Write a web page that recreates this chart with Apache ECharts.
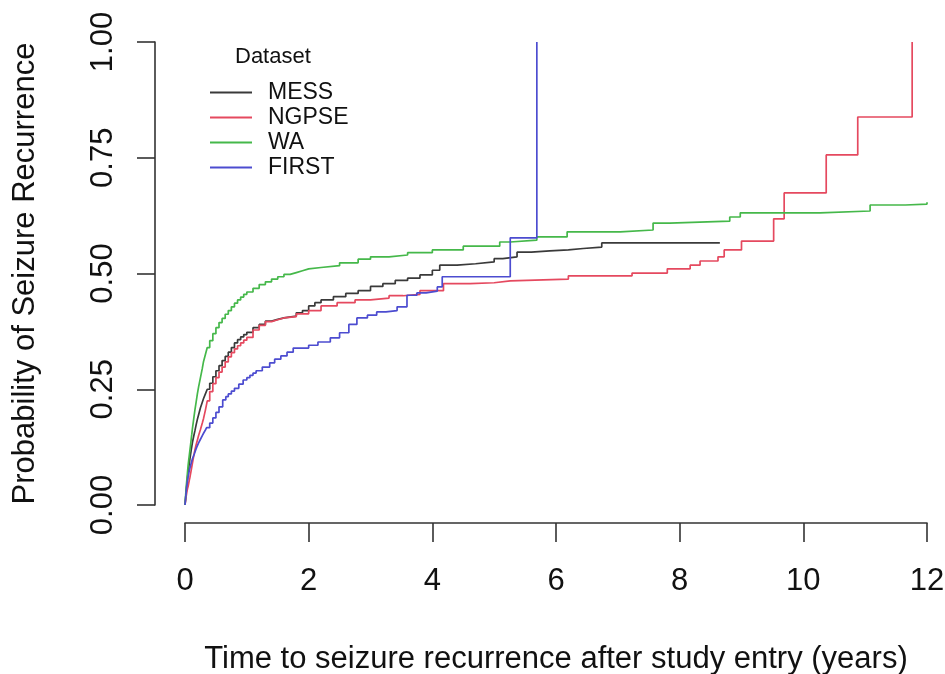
<!DOCTYPE html>
<html>
<head>
<meta charset="utf-8">
<script src="https://cdn.jsdelivr.net/npm/echarts@6/dist/echarts.min.js"></script>
<style>
html,body{margin:0;padding:0;background:#fff;}
#chart{width:945px;height:674px;}
</style>
</head>
<body>
<div id="chart"></div>
<script>
// ---- data ----
const datasetNames = ['MESS', 'NGPSE', 'WA', 'FIRST'];
const xTicks = [0, 2, 4, 6, 8, 10, 12];
const yTicks = [0, 0.25, 0.5, 0.75, 1];

const messT = [0, 0.01, 0.02, 0.03, 0.04, 0.05, 0.06, 0.07, 0.08, 0.1, 0.12, 0.14, 0.16, 0.18, 0.2, 0.22, 0.25, 0.28, 0.3, 0.33, 0.36, 0.4, 0.45, 0.5, 0.55, 0.6, 0.65, 0.7, 0.75, 0.8, 0.85, 0.9, 0.95, 1.0, 1.1, 1.2, 1.3, 1.4, 1.5, 1.6, 1.8, 1.9, 2.0, 2.1, 2.2, 2.4, 2.6, 2.8, 3.0, 3.2, 3.4, 3.6, 3.8, 4.0, 4.12, 4.4, 4.7, 5.0, 5.14, 5.37, 5.6, 5.9, 6.2, 6.44, 6.74, 8.65];
const messP = [0, 0.015, 0.03, 0.045, 0.058, 0.07, 0.08, 0.09, 0.1, 0.118, 0.135, 0.148, 0.16, 0.173, 0.185, 0.195, 0.21, 0.222, 0.23, 0.24, 0.25, 0.263, 0.277, 0.29, 0.301, 0.312, 0.321, 0.33, 0.34, 0.35, 0.357, 0.363, 0.368, 0.373, 0.383, 0.39, 0.397, 0.401, 0.404, 0.408, 0.415, 0.42, 0.43, 0.437, 0.443, 0.45, 0.457, 0.463, 0.472, 0.478, 0.485, 0.49, 0.497, 0.507, 0.518, 0.521, 0.525, 0.532, 0.536, 0.546, 0.549, 0.551, 0.554, 0.557, 0.566, 0.566];

const ngpseT = [0, 0.01, 0.02, 0.03, 0.04, 0.05, 0.06, 0.07, 0.08, 0.1, 0.12, 0.14, 0.16, 0.18, 0.2, 0.22, 0.25, 0.28, 0.3, 0.33, 0.36, 0.4, 0.45, 0.5, 0.55, 0.6, 0.65, 0.7, 0.75, 0.8, 0.85, 0.9, 0.95, 1.0, 1.1, 1.2, 1.3, 1.4, 1.5, 1.6, 1.8, 2.0, 2.2, 2.46, 2.75, 3.0, 3.3, 3.53, 3.8, 4.18, 4.61, 5.0, 5.26, 6.2, 7.23, 7.8, 8.17, 8.33, 8.62, 8.72, 9.0, 9.52, 9.69, 10.37, 10.88, 11.76];
const ngpseP = [0, 0.01, 0.02, 0.028, 0.035, 0.04, 0.047, 0.054, 0.06, 0.075, 0.09, 0.105, 0.119, 0.13, 0.14, 0.15, 0.163, 0.177, 0.187, 0.205, 0.225, 0.245, 0.262, 0.275, 0.287, 0.298, 0.309, 0.32, 0.329, 0.337, 0.344, 0.35, 0.356, 0.362, 0.378, 0.388, 0.396, 0.4, 0.404, 0.407, 0.413, 0.42, 0.43, 0.437, 0.443, 0.447, 0.452, 0.455, 0.463, 0.478, 0.48, 0.484, 0.488, 0.495, 0.501, 0.51, 0.518, 0.527, 0.536, 0.551, 0.57, 0.618, 0.674, 0.756, 0.838, 1.0];

const waT = [0, 0.01, 0.02, 0.03, 0.04, 0.05, 0.06, 0.07, 0.08, 0.09, 0.1, 0.11, 0.12, 0.14, 0.16, 0.18, 0.2, 0.22, 0.25, 0.28, 0.3, 0.33, 0.36, 0.4, 0.45, 0.5, 0.55, 0.6, 0.65, 0.7, 0.75, 0.8, 0.85, 0.9, 0.95, 1.0, 1.1, 1.2, 1.3, 1.4, 1.5, 1.6, 1.7, 1.8, 1.9, 2.0, 2.2, 2.5, 2.8, 3.0, 3.3, 3.6, 4.0, 4.5, 5.09, 5.26, 5.69, 6.18, 7.04, 7.57, 7.84, 8.81, 8.98, 10.27, 11.08, 11.65, 12.0];
const waP = [0, 0.02, 0.04, 0.055, 0.07, 0.085, 0.097, 0.108, 0.119, 0.13, 0.142, 0.153, 0.165, 0.185, 0.205, 0.222, 0.24, 0.255, 0.275, 0.295, 0.31, 0.325, 0.34, 0.355, 0.37, 0.383, 0.394, 0.403, 0.412, 0.42, 0.428, 0.436, 0.443, 0.449, 0.455, 0.46, 0.468, 0.476, 0.482, 0.488, 0.493, 0.498, 0.502, 0.506, 0.51, 0.513, 0.517, 0.523, 0.531, 0.536, 0.54, 0.545, 0.551, 0.559, 0.568, 0.572, 0.579, 0.59, 0.594, 0.609, 0.613, 0.622, 0.631, 0.635, 0.648, 0.65, 0.654];

const firstT = [0, 0.01, 0.02, 0.03, 0.04, 0.05, 0.07, 0.1, 0.12, 0.15, 0.17, 0.19, 0.22, 0.25, 0.28, 0.3, 0.33, 0.35, 0.4, 0.45, 0.5, 0.55, 0.61, 0.66, 0.7, 0.75, 0.8, 0.87, 0.94, 1.0, 1.05, 1.1, 1.15, 1.25, 1.37, 1.45, 1.55, 1.65, 1.75, 2.0, 2.15, 2.35, 2.5, 2.65, 2.78, 2.95, 3.1, 3.25, 3.43, 3.59, 3.75, 3.9, 4.08, 4.16, 5.26, 5.69];
const firstP = [0, 0.015, 0.03, 0.042, 0.052, 0.06, 0.075, 0.09, 0.1, 0.11, 0.118, 0.125, 0.134, 0.142, 0.15, 0.155, 0.162, 0.167, 0.177, 0.188, 0.2, 0.212, 0.227, 0.234, 0.24, 0.246, 0.252, 0.261, 0.27, 0.275, 0.28, 0.285, 0.29, 0.298, 0.307, 0.315, 0.322, 0.33, 0.339, 0.345, 0.352, 0.361, 0.372, 0.39, 0.404, 0.41, 0.417, 0.42, 0.428, 0.453, 0.458, 0.462, 0.471, 0.493, 0.577, 1.0];

const colors = ['#3a3a3a', '#e5495f', '#45b84a', '#4c4cd0'];

// ---- build ----
function pairs(t, p) { return t.map((v, i) => [v, p[i]]); }
const seriesData = [pairs(messT, messP), pairs(ngpseT, ngpseP), pairs(waT, waP), pairs(firstT, firstP)];

const FONT = '"Liberation Sans", Arial, sans-serif';
const chart = echarts.init(document.getElementById('chart'), null, {renderer: 'canvas'});
chart.setOption({
  backgroundColor: '#fff',
  animation: false,
  textStyle: {fontFamily: FONT},
  title: {
    text: 'Dataset', left: 230, top: 41,
    textStyle: {fontFamily: FONT, fontSize: 22, fontWeight: 'normal', color: '#111'}
  },
  legend: {
    data: datasetNames.map((n, i) => ({name: n, icon: 'rect', itemStyle: {color: colors[i]}})),
    orient: 'vertical', left: 205, top: 75,
    itemWidth: 42, itemHeight: 2, itemGap: 0,
    textStyle: {fontFamily: FONT, fontSize: 23, color: '#111', lineHeight: 25, padding: [0, 0, 0, 11]}
  },
  grid: {left: 185, right: 18, top: 42, bottom: 169, containLabel: false, outerBoundsMode: 'none'},
  xAxis: {
    type: 'value', min: xTicks[0], max: xTicks[xTicks.length - 1], interval: 2,
    offset: 18,
    name: 'Time to seizure recurrence after study entry (years)',
    nameLocation: 'middle', nameGap: 121,
    nameTextStyle: {fontFamily: FONT, fontSize: 31, color: '#111'},
    axisLine: {show: true, onZero: false, lineStyle: {color: '#333', width: 1.6}},
    axisTick: {show: true, length: 19, lineStyle: {color: '#333', width: 1.6}},
    axisLabel: {fontFamily: FONT, fontSize: 31, color: '#111', margin: 43},
    splitLine: {show: false}
  },
  yAxis: {
    type: 'value', min: yTicks[0], max: yTicks[yTicks.length - 1], interval: 0.25,
    offset: 30,
    name: 'Probability of Seizure Recurrence',
    nameLocation: 'middle', nameGap: 114,
    nameTextStyle: {fontFamily: FONT, fontSize: 31, color: '#111'},
    axisLine: {show: true, onZero: false, lineStyle: {color: '#333', width: 1.6}},
    axisTick: {show: true, length: 18, lineStyle: {color: '#333', width: 1.6}},
    axisLabel: {fontFamily: FONT, fontSize: 31, color: '#111', rotate: 90, margin: 36,
      formatter: v => v.toFixed(2)},
    splitLine: {show: false}
  },
  series: datasetNames.map((n, i) => ({
    name: n, type: 'line', step: 'end', data: seriesData[i],
    symbol: 'none', showSymbol: false,
    lineStyle: {color: colors[i], width: 1.7},
    itemStyle: {color: colors[i]},
    z: 2
  }))
});
</script>
</body>
</html>
